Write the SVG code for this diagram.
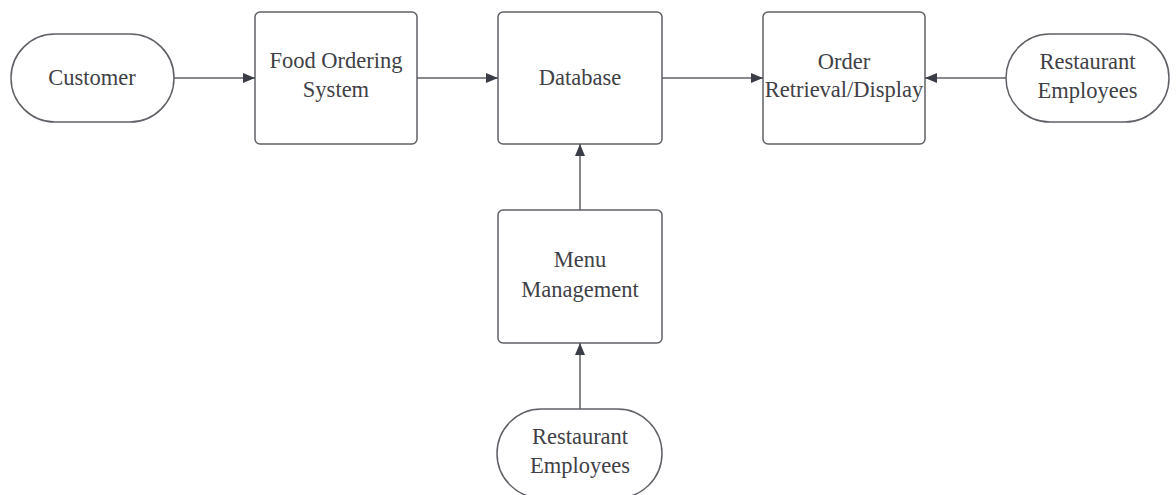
<svg xmlns="http://www.w3.org/2000/svg" width="1176" height="495" viewBox="0 0 1176 495">
<style>
.n{fill:#ffffff;stroke:#5f6166;stroke-width:1.5}
.t{font-family:"Liberation Serif","Times New Roman",serif;font-size:22.5px;fill:#404146;text-anchor:middle}
.c{stroke:#5f6166;stroke-width:1.5;fill:none;marker-end:url(#ah)}
</style>
<defs>
<marker id="ah" viewBox="0 0 12 10" refX="12" refY="5" markerWidth="12" markerHeight="10" markerUnits="userSpaceOnUse" orient="auto">
<path d="M0,0 L12,5 L0,10 Z" fill="#3a3d45"/>
</marker>
</defs>
<rect width="1176" height="495" fill="#ffffff"/>
<g id="customer"><rect class="n" x="11" y="34" width="163" height="88" rx="44"/><text class="t" x="92" y="85">Customer</text></g>
<g id="food-ordering"><rect class="n" x="255" y="12" width="162" height="132" rx="5"/><text class="t" x="336" y="68">Food Ordering</text><text class="t" x="336" y="97">System</text></g>
<g id="database"><rect class="n" x="498" y="12" width="164" height="132" rx="5"/><text class="t" x="580" y="85">Database</text></g>
<g id="order-retrieval"><rect class="n" x="763" y="12" width="162" height="132" rx="5"/><text class="t" x="844" y="69">Order</text><text class="t" x="844" y="97">Retrieval/Display</text></g>
<g id="restaurant-employees-right"><rect class="n" x="1006" y="34" width="163" height="88" rx="44"/><text class="t" x="1087.5" y="69">Restaurant</text><text class="t" x="1087.5" y="98">Employees</text></g>
<g id="menu-management"><rect class="n" x="498" y="210" width="164" height="133" rx="5"/><text class="t" x="580" y="267">Menu</text><text class="t" x="580" y="297">Management</text></g>
<g id="restaurant-employees-bottom"><rect class="n" x="497" y="409" width="165" height="89" rx="44.5"/><text class="t" x="580" y="444">Restaurant</text><text class="t" x="580" y="473">Employees</text></g>
<g id="connectors">
<line class="c" x1="174" y1="78" x2="255" y2="78"/>
<line class="c" x1="417" y1="78" x2="498" y2="78"/>
<line class="c" x1="662" y1="78" x2="763" y2="78"/>
<line class="c" x1="1006" y1="78" x2="925" y2="78"/>
<line class="c" x1="580" y1="210" x2="580" y2="144"/>
<line class="c" x1="580" y1="409" x2="580" y2="343"/>
</g>
</svg>
